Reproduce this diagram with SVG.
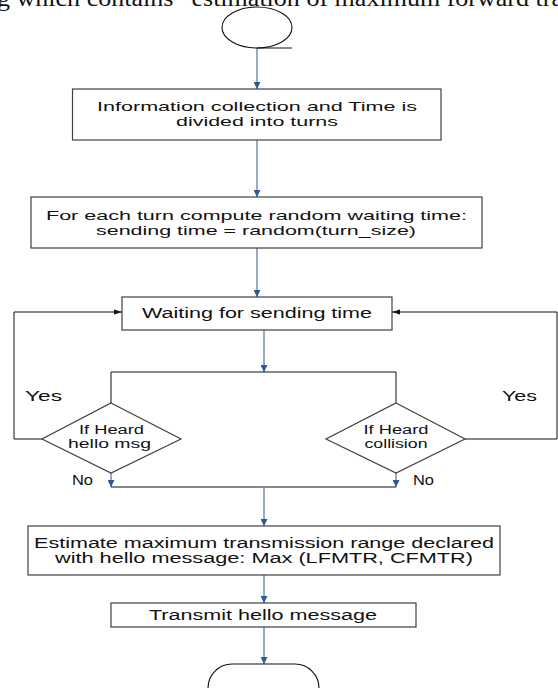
<svg xmlns="http://www.w3.org/2000/svg" width="558" height="688" viewBox="0 0 558 688">
  <style>
    .box { fill: #ffffff; stroke: #404040; stroke-width: 1.2; }
    .term { fill: none; stroke: #111111; stroke-width: 1.1; }
    .lbl { font-family: "Liberation Sans", Arial, sans-serif; font-size: 13.5px; fill: #111111; }
    .big { font-size: 14px; }
    .dia { font-size: 12px; }
    .flow { fill: none; stroke: #7090b8; stroke-width: 1.5; marker-end: url(#ab); }
    .loop { fill: none; stroke: #111111; stroke-width: 1; }
    .loop-arr { fill: none; stroke: #111111; stroke-width: 1; marker-end: url(#ak); }
    .note { font-family: "Liberation Serif", "Times New Roman", serif; font-size: 23px; fill: #111111; }
  </style>
  <defs>
    <marker id="ab" viewBox="0 0 6 6" refX="6" refY="3" markerWidth="7" markerHeight="7" orient="auto" markerUnits="userSpaceOnUse">
      <path d="M0,0 L6,3 L0,6 z" fill="#2c5a96"/>
    </marker>
    <marker id="ak" viewBox="0 0 8 6" refX="8" refY="3" markerWidth="8" markerHeight="6" orient="auto" markerUnits="userSpaceOnUse">
      <path d="M0,0.5 L8,3 L0,5.5 z" fill="#111111"/>
    </marker>
  </defs>

  <rect x="0" y="0" width="558" height="688" fill="#ffffff"/>

  <!-- running text line above the chart -->
  <text class="note" x="-3" y="6" textLength="566" lengthAdjust="spacingAndGlyphs">g which contains  “estimation of maximum forward tra</text>

  <!-- connectors -->
  <g id="connectors">
    <path class="flow" d="M257,48 V89"/>
    <path class="flow" d="M257,140 V197"/>
    <path class="flow" d="M257,248 V297"/>
    <path class="flow" d="M264,330 V372"/>
    <path class="loop" d="M111,372 H396"/>
    <path class="loop" d="M111,372 V403"/>
    <path class="loop" d="M396,372 V403"/>
    <!-- yes branches loop back to the waiting step -->
    <path class="loop-arr" d="M42,439 H14 V312 H122"/>
    <path class="loop-arr" d="M465,439 H557 V312 H392"/>
    <!-- no branches -->
    <path class="flow" d="M111,473 V487"/>
    <path class="flow" d="M396,473 V487"/>
    <path class="loop" d="M111,487 H396"/>
    <path class="flow" d="M264,487 V526"/>
    <path class="flow" d="M264,575 V603"/>
    <path class="flow" d="M264,627 V664"/>
  </g>

  <g id="start">
    <ellipse class="term" cx="257" cy="27.5" rx="35" ry="20.5"/>
    <path class="term" d="M257,48 H292"/>
  </g>

  <g id="collect">
    <rect class="box" x="72.5" y="89" width="368.5" height="51"/>
    <text class="lbl" x="257" y="110.5" text-anchor="middle" textLength="320" lengthAdjust="spacingAndGlyphs">Information collection and Time is</text>
    <text class="lbl" x="257" y="126" text-anchor="middle" textLength="162" lengthAdjust="spacingAndGlyphs">divided into turns</text>
  </g>

  <g id="compute">
    <rect class="box" x="31" y="197" width="451" height="51"/>
    <text class="lbl" x="256.5" y="220" text-anchor="middle" textLength="421" lengthAdjust="spacingAndGlyphs">For each turn compute random waiting time:</text>
    <text class="lbl" x="256" y="235" text-anchor="middle" textLength="320" lengthAdjust="spacingAndGlyphs">sending time = random(turn_size)</text>
  </g>

  <g id="waiting">
    <rect class="box" x="122" y="297" width="270" height="33"/>
    <text class="lbl big" x="257" y="318" text-anchor="middle" textLength="230" lengthAdjust="spacingAndGlyphs">Waiting for sending time</text>
  </g>

  <g id="heard-hello">
    <path class="box" d="M111,403 L181,439 L111,473 L42,439 z"/>
    <text class="lbl dia" x="111.5" y="434" text-anchor="middle" textLength="65" lengthAdjust="spacingAndGlyphs">If Heard</text>
    <text class="lbl dia" x="109.5" y="448" text-anchor="middle" textLength="83" lengthAdjust="spacingAndGlyphs">hello msg</text>
  </g>

  <g id="heard-collision">
    <path class="box" d="M396,403 L465,439 L396,473 L326,439 z"/>
    <text class="lbl dia" x="396" y="434" text-anchor="middle" textLength="65" lengthAdjust="spacingAndGlyphs">If Heard</text>
    <text class="lbl dia" x="396" y="448" text-anchor="middle" textLength="63" lengthAdjust="spacingAndGlyphs">collision</text>
  </g>

  <g id="branch-labels">
    <text class="lbl big" x="25" y="400.5" textLength="37" lengthAdjust="spacingAndGlyphs">Yes</text>
    <text class="lbl big" x="502" y="400.5" textLength="35" lengthAdjust="spacingAndGlyphs">Yes</text>
    <text class="lbl big" x="72" y="485" textLength="21" lengthAdjust="spacingAndGlyphs">No</text>
    <text class="lbl big" x="413" y="485" textLength="21" lengthAdjust="spacingAndGlyphs">No</text>
  </g>

  <g id="estimate">
    <rect class="box" x="28" y="526" width="472" height="49"/>
    <text class="lbl big" x="264" y="547.5" text-anchor="middle" textLength="460" lengthAdjust="spacingAndGlyphs">Estimate maximum transmission range declared</text>
    <text class="lbl big" x="264" y="562.5" text-anchor="middle" textLength="418" lengthAdjust="spacingAndGlyphs">with hello message: Max (LFMTR, CFMTR)</text>
  </g>

  <g id="transmit">
    <rect class="box" x="111" y="603" width="305" height="24"/>
    <text class="lbl big" x="263" y="619.5" text-anchor="middle" textLength="228" lengthAdjust="spacingAndGlyphs">Transmit hello message</text>
  </g>

  <g id="end">
    <rect class="term" x="208" y="664" width="111" height="50" rx="24" ry="24"/>
  </g>
</svg>
